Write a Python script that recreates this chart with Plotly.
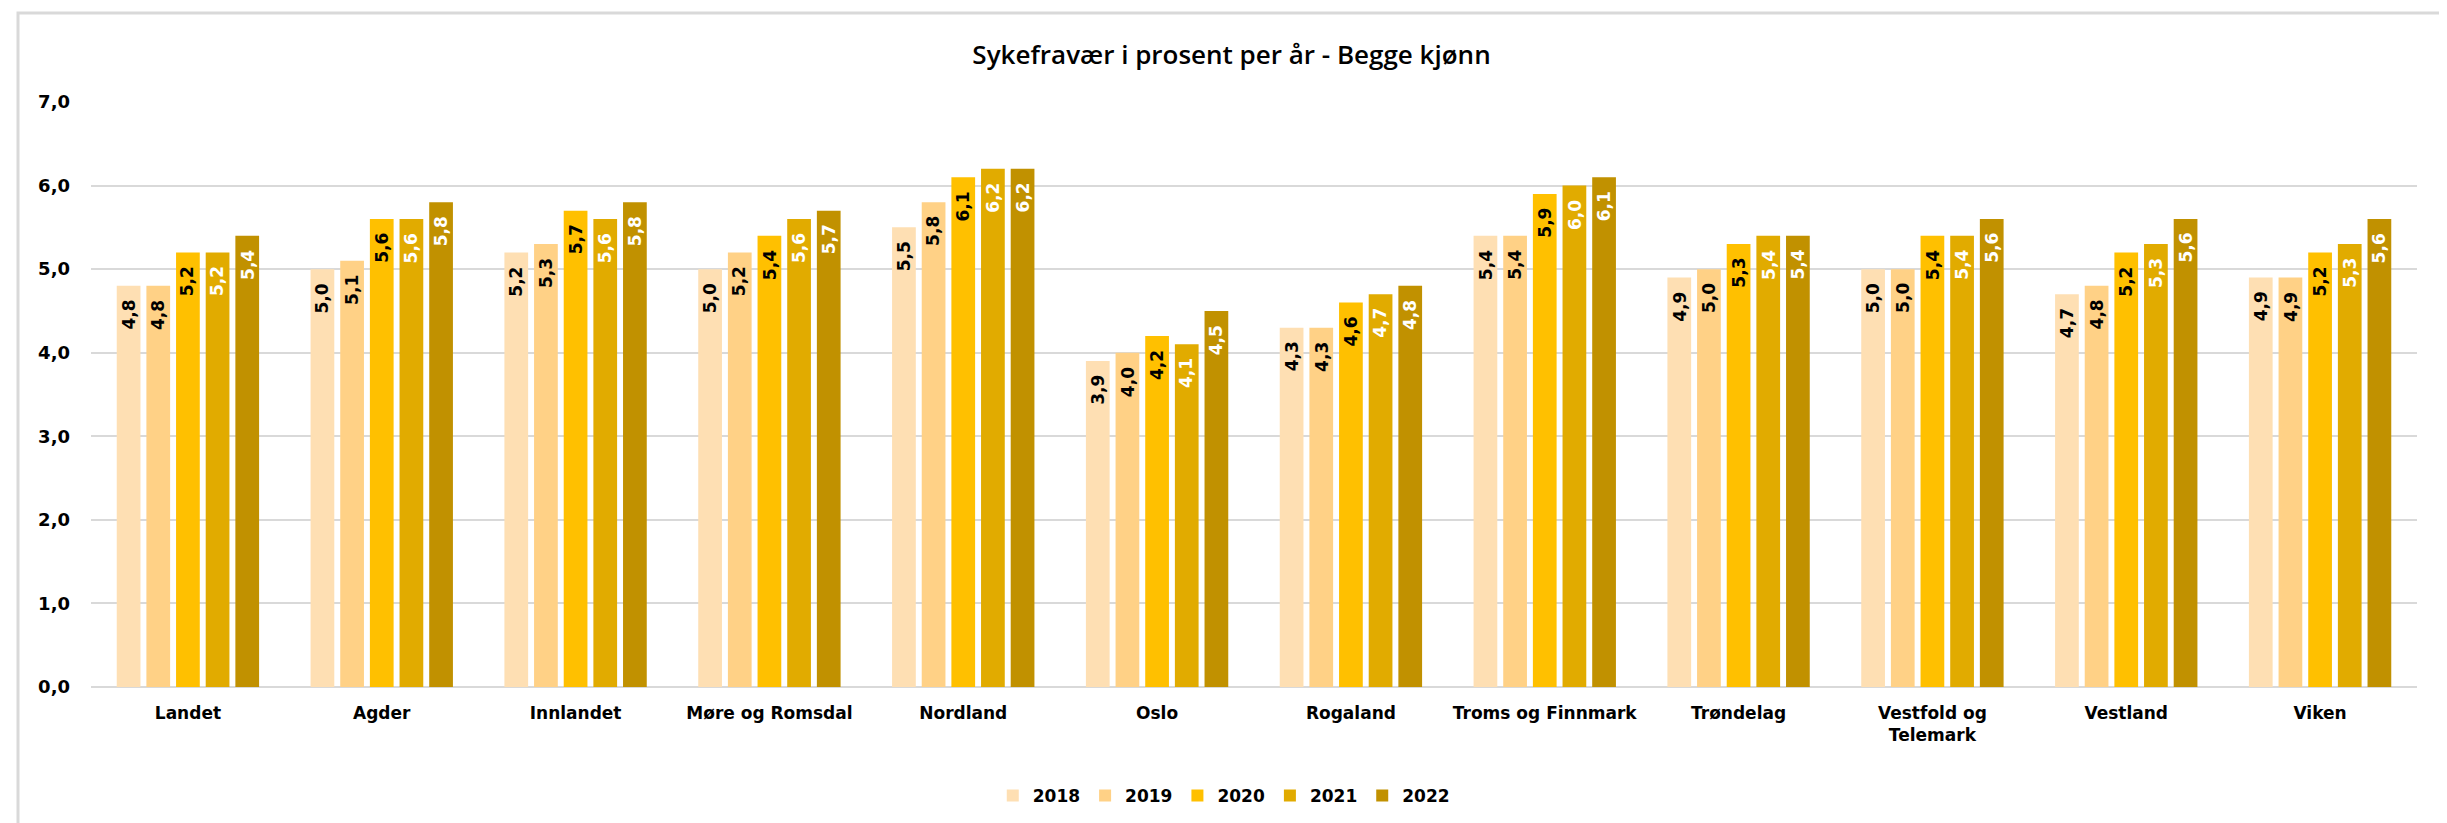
import plotly.graph_objects as go

categories = ["Landet", "Agder", "Innlandet", "Møre og Romsdal", "Nordland", "Oslo",
              "Rogaland", "Troms og Finnmark", "Trøndelag", "Vestfold og<br>Telemark",
              "Vestland", "Viken"]
years = ["2018", "2019", "2020", "2021", "2022"]
v2018 = [4.8, 5.0, 5.2, 5.0, 5.5, 3.9, 4.3, 5.4, 4.9, 5.0, 4.7, 4.9]
v2019 = [4.8, 5.1, 5.3, 5.2, 5.8, 4.0, 4.3, 5.4, 5.0, 5.0, 4.8, 4.9]
v2020 = [5.2, 5.6, 5.7, 5.4, 6.1, 4.2, 4.6, 5.9, 5.3, 5.4, 5.2, 5.2]
v2021 = [5.2, 5.6, 5.6, 5.6, 6.2, 4.1, 4.7, 6.0, 5.4, 5.4, 5.3, 5.3]
v2022 = [5.4, 5.8, 5.8, 5.7, 6.2, 4.5, 4.8, 6.1, 5.4, 5.6, 5.6, 5.6]
yticks = [0, 1, 2, 3, 4, 5, 6, 7]

series = [v2018, v2019, v2020, v2021, v2022]
colors = ["#FEDFB3", "#FFD186", "#FFC000", "#E1AB00", "#C19100"]
textcolors = ["#000000", "#000000", "#000000", "#FFFFFF", "#FFFFFF"]

W, H = 2447, 823
L, R, T, B = 83, 38, 94, 144
pw = W - L - R
ph = H - T - B
BARGAP = 0.235
GROUPGAP = 0.2

fig = go.Figure()
for name, vals, c in zip(years, series, colors):
    fig.add_trace(go.Bar(
        x=categories, y=vals, name=name,
        marker=dict(color=c, line=dict(width=0)),
    ))

# data labels, rotated, just inside the top of each bar
cat_px = pw / len(categories)
slot_px = cat_px * (1 - BARGAP) / len(series)
annotations = []
for i, (vals, tc) in enumerate(zip(series, textcolors)):
    shift = (i - (len(series) - 1) / 2) * slot_px
    for cat, v in zip(categories, vals):
        annotations.append(dict(
            x=cat, y=v, xref="x", yref="y", text=f"{v:.1f}".replace(".", ","),
            showarrow=False, textangle=-90, xanchor="center", yanchor="top",
            xshift=shift, yshift=-13, borderpad=0,
            font=dict(family="DejaVu Sans", size=17, color=tc, weight="bold"),
        ))

def px(x):
    return (x - L) / pw

def py(y):
    return (H - B - y) / ph

fig.update_layout(
    width=W, height=H,
    margin=dict(l=L, r=R, t=T, b=B, pad=0),
    paper_bgcolor="white", plot_bgcolor="white",
    separators=", ",
    barmode="group", bargap=BARGAP, bargroupgap=GROUPGAP,
    title=dict(text="Sykefravær i prosent per år - Begge kjønn",
               x=0.5, xref="container", xanchor="center",
               y=1 - 47 / H, yref="container", yanchor="middle",
               font=dict(family="Open Sans", size=26, color="#000000", weight=600)),
    legend=dict(orientation="h", x=0.487, xanchor="center", y=py(788), yanchor="middle",
                font=dict(family="DejaVu Sans", size=17, color="#000000", weight="bold"),
                itemwidth=30, traceorder="normal"),
    xaxis=dict(showgrid=False, showline=False, ticks="", ticklabelstandoff=14,
               tickfont=dict(family="DejaVu Sans", size=17, color="#000000", weight="bold")),
    yaxis=dict(range=[0, 7], tickvals=yticks, tickformat=".1f",
               showgrid=True, gridcolor="#D9D9D9", gridwidth=2,
               zeroline=True, zerolinecolor="#D9D9D9", zerolinewidth=2,
               showline=False, ticks="", ticklabelstandoff=20,
               tickfont=dict(family="DejaVu Sans", size=18, color="#000000", weight="bold")),
    annotations=annotations,
    shapes=[dict(type="rect", xref="paper", yref="paper",
                 x0=px(10), x1=px(2437), y0=py(819), y1=py(5),
                 line=dict(color="#D9D9D9", width=3), fillcolor="rgba(0,0,0,0)", layer="below")],
)

fig.write_html("out.html")
